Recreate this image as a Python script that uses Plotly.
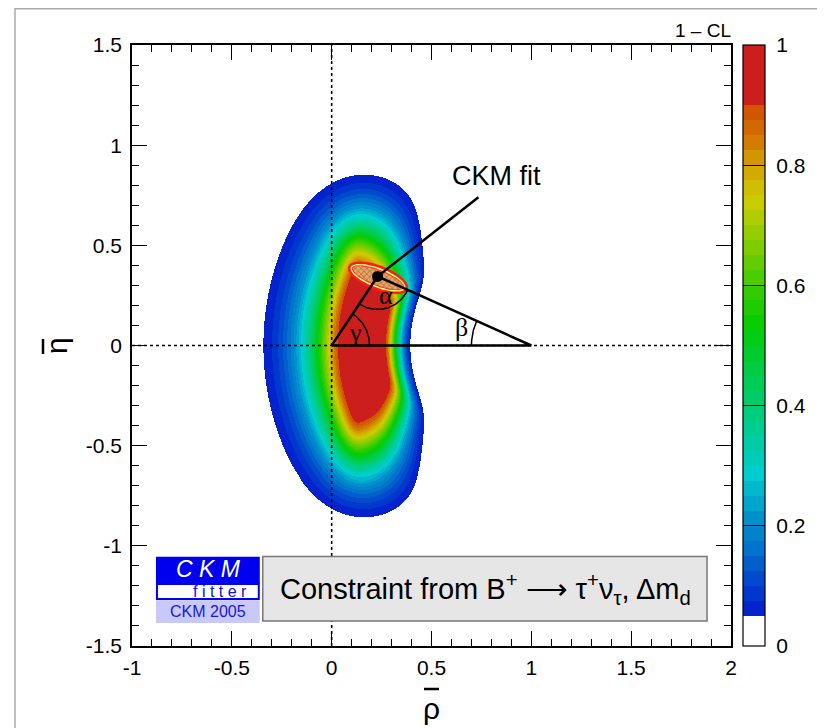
import numpy as np
import plotly.graph_objects as go

# ---------------- data ----------------
# Constraint model (B+ -> tau nu, Delta m_d): flat ranges and widths to the 1-CL = 0.05 edge
INV_RT_PLATEAU = [1.10, 1.311]      # range of 1/R_t with 1-CL ~ 1
INV_RT_WIDTH = [0.354, 0.34]        # distance from plateau to the 1-CL = 0.05 edge
RU_PLATEAU_MAX = 0.30               # R_u flat up to
RU_WIDTH = 0.59
RATIO_PLATEAU_MAX = 0.395           # R_u / R_t flat up to
RATIO_WIDTH = 0.52
COMBINE_POWER = 6
BTAU_COMBINE_POWER = 8
GRID_STEP = 0.005
GRID_RHO = [-0.5, 0.7]
GRID_ETA = [-1.0, 1.0]

# colour bands of 1 - CL
BAND_EDGES = [0.05, 0.075, 0.10, 0.125, 0.15, 0.175, 0.20, 0.225, 0.25, 0.275,
              0.30, 0.325, 0.35, 0.375, 0.40, 0.425, 0.45, 0.475, 0.50, 0.525,
              0.55, 0.575, 0.60, 0.625, 0.65, 0.675, 0.70, 0.725, 0.75, 0.775,
              0.80, 0.825, 0.85, 0.875, 0.90, 1.00]
BAND_COLORS = ["rgb(5,35,205)", "rgb(0,55,205)", "rgb(0,75,205)", "rgb(0,95,205)",
               "rgb(0,115,205)", "rgb(0,130,205)", "rgb(0,145,205)", "rgb(0,165,205)",
               "rgb(0,185,205)", "rgb(0,205,205)", "rgb(0,205,185)", "rgb(0,205,165)",
               "rgb(0,205,145)", "rgb(0,205,125)", "rgb(0,205,105)", "rgb(0,205,85)",
               "rgb(0,205,65)", "rgb(0,205,45)", "rgb(0,205,20)", "rgb(10,205,0)",
               "rgb(30,205,0)", "rgb(50,205,0)", "rgb(75,205,0)", "rgb(100,205,0)",
               "rgb(125,205,0)", "rgb(150,205,0)", "rgb(175,205,0)", "rgb(200,205,0)",
               "rgb(210,190,0)", "rgb(210,170,0)", "rgb(210,150,0)", "rgb(210,125,0)",
               "rgb(210,105,0)", "rgb(210,85,0)", "rgb(205,30,30)"]
CBAR_TICKS = [0, 0.2, 0.4, 0.6, 0.8, 1]
CBAR_TICKTEXT = ["0", "0.2", "0.4", "0.6", "0.8", "1"]

# global fit (apex of the unitarity triangle) and its confidence region
FIT_POINT = [0.23, 0.345]
ELLIPSE_CENTER = [0.232, 0.338]
ELLIPSE_AXES = [0.16, 0.062]
ELLIPSE_TILT_DEG = -21
CKM_LABEL_POS = [0.825, 0.845]
CKM_LINE_END = [0.735, 0.74]

X_TICKS = [-1, -0.5, 0, 0.5, 1, 1.5, 2]
X_TICKTEXT = ["-1", "-0.5", "0", "0.5", "1", "1.5", "2"]
Y_TICKS = [-1.5, -1, -0.5, 0, 0.5, 1, 1.5]
Y_TICKTEXT = ["-1.5", "-1", "-0.5", "0", "0.5", "1", "1.5"]

# ---------------- layout geometry (figure pixels; page adds an 8 px body margin) ----------------
W, H = 817, 720
ML, MR, MT, MB = 124, 94, 37, 82
PW, PH = W - ML - MR, H - MT - MB


def px(x):
    return (x - ML) / PW


def py(y):
    return (MT + PH - y) / PH


# ---------------- 1 - CL field ----------------
rho = np.round(np.arange(GRID_RHO[0], GRID_RHO[1] + 1e-9, GRID_STEP), 4)
eta = np.round(np.arange(GRID_ETA[0], GRID_ETA[1] + 1e-9, GRID_STEP), 4)
RHO, ETA = np.meshgrid(rho, eta)
Ru = np.hypot(RHO, ETA)
Rt = np.maximum(np.hypot(1 - RHO, ETA), 1e-6)
u = 1.0 / Rt
e_u = (np.clip(INV_RT_PLATEAU[0] - u, 0, None) / INV_RT_WIDTH[0]
       + np.clip(u - INV_RT_PLATEAU[1], 0, None) / INV_RT_WIDTH[1])
e_ru = np.clip(Ru - RU_PLATEAU_MAX, 0, None) / RU_WIDTH
e_k = np.clip(Ru / Rt - RATIO_PLATEAU_MAX, 0, None) / RATIO_WIDTH
e_a = (e_ru ** BTAU_COMBINE_POWER + e_k ** BTAU_COMBINE_POWER) ** (1.0 / BTAU_COMBINE_POWER)
e = (e_u ** COMBINE_POWER + e_a ** COMBINE_POWER) ** (1.0 / COMBINE_POWER)
cl = np.exp(-0.5 * 5.991 * e ** 2)
z = np.where(cl >= 0.05, np.round(cl, 4), np.nan)

colorscale = [[0.0, "white"], [BAND_EDGES[0], "white"]]
for i, c in enumerate(BAND_COLORS):
    colorscale.append([BAND_EDGES[i], c])
    colorscale.append([BAND_EDGES[i + 1], c])

SERIF = "Liberation Serif, Times New Roman, serif"
SANS = "Liberation Sans, Arial, Helvetica, sans-serif"

fig = go.Figure()
fig.add_trace(go.Heatmap(
    x=rho, y=eta, z=z, zmin=0, zmax=1, colorscale=colorscale, zsmooth=False,
    hoverinfo="skip",
    colorbar=dict(
        x=px(735), xanchor="left", y=0.5, yanchor="middle", len=1.0, lenmode="fraction",
        thickness=22, outlinewidth=1.2, outlinecolor="black",
        tickvals=CBAR_TICKS, ticktext=["\u00a0" + t for t in CBAR_TICKTEXT],
        ticks="inside", ticklen=22, tickcolor="black", tickwidth=1.2,
        tickfont=dict(family=SANS, size=21, color="black"),
        ypad=0, xpad=0,
    ),
))


def ellipse(shrink):
    t = np.linspace(0, 2 * np.pi, 160)
    a = ELLIPSE_AXES[0] - shrink
    b = ELLIPSE_AXES[1] - shrink
    th = np.deg2rad(ELLIPSE_TILT_DEG)
    xs = ELLIPSE_CENTER[0] + a * np.cos(t) * np.cos(th) - b * np.sin(t) * np.sin(th)
    ys = ELLIPSE_CENTER[1] + a * np.cos(t) * np.sin(th) + b * np.sin(t) * np.cos(th)
    return xs, ys


for shrink, col in [(0.0, "#ff1a1a"), (0.013, "#ffff70"), (0.021, "#ff2a2a")]:
    xs, ys = ellipse(shrink)
    fig.add_trace(go.Scatter(x=xs, y=ys, mode="lines", fill="toself", fillcolor=col,
                             line=dict(width=0, color=col), hoverinfo="skip", showlegend=False))
xs, ys = ellipse(0.026)
fig.add_trace(go.Scatter(x=xs, y=ys, mode="lines", fill="toself", line=dict(width=0),
                         fillcolor="#d89050",
                         fillpattern=dict(shape="x", fgcolor="#a83018", bgcolor="#e0a868",
                                          size=4, solidity=0.4),
                         hoverinfo="skip", showlegend=False))

# unitarity triangle and label line
fig.add_trace(go.Scatter(x=[0, FIT_POINT[0], 1, 0], y=[0, FIT_POINT[1], 0, 0], mode="lines",
                         line=dict(color="black", width=2.5), hoverinfo="skip", showlegend=False))
fig.add_trace(go.Scatter(x=[FIT_POINT[0], CKM_LINE_END[0]], y=[FIT_POINT[1], CKM_LINE_END[1]],
                         mode="lines", line=dict(color="black", width=2.5),
                         hoverinfo="skip", showlegend=False))

# angle arcs
ax_, ay_ = FIT_POINT
gamma = np.arctan2(ay_, ax_)
beta = np.arctan2(ay_, 1 - ax_)


def arc(cx, cy, r, a0, a1):
    t = np.linspace(a0, a1, 60)
    return cx + r * np.cos(t), cy + r * np.sin(t)


for (cx, cy, r, a0, a1) in [(0, 0, 0.19, 0, gamma),
                            (ax_, ay_, 0.165, np.pi + gamma, 2 * np.pi - beta),
                            (1, 0, 0.30, np.pi - beta, np.pi)]:
    xs, ys = arc(cx, cy, r, a0, a1)
    fig.add_trace(go.Scatter(x=xs, y=ys, mode="lines", line=dict(color="black", width=1.5),
                             hoverinfo="skip", showlegend=False))

fig.add_trace(go.Scatter(x=[FIT_POINT[0]], y=[FIT_POINT[1]], mode="markers",
                         marker=dict(color="black", size=11), hoverinfo="skip", showlegend=False))

ann = []
for txt, x, y in [("γ", 0.12, 0.065), ("α", 0.273, 0.25), ("β", 0.648, 0.088)]:
    ann.append(dict(x=x, y=y, xref="x", yref="y", text=txt, showarrow=False,
                    font=dict(family=SERIF, size=26, color="black")))
ann.append(dict(x=CKM_LABEL_POS[0], y=CKM_LABEL_POS[1], xref="x", yref="y", text="CKM fit",
                showarrow=False, font=dict(family=SANS, size=27, color="black")))
# logo texts
ann.append(dict(x=-0.615, y=-1.118, xref="x", yref="y", text="<i>C K M</i>", showarrow=False,
                font=dict(family=SANS, size=23, color="white")))
ann.append(dict(x=-0.56, y=-1.226, xref="x", yref="y", text="f i t t e r", showarrow=False,
                font=dict(family=SANS, size=16, color="#1010e0")))
ann.append(dict(x=-0.62, y=-1.327, xref="x", yref="y", text="CKM 2005", showarrow=False,
                font=dict(family=SANS, size=16, color="#1818e0")))
ann.append(dict(x=0.77, y=-1.215, xref="x", yref="y",
                text="Constraint from B<sup>+</sup> ⟶ τ<sup>+</sup>ν<sub>τ</sub>, Δm<sub>d</sub>",
                showarrow=False, font=dict(family=SANS, size=29, color="black")))
# axis titles and colour bar title
ann.append(dict(x=px(423), y=py(700), xref="paper", yref="paper", text="ρ", showarrow=False,
                xanchor="center", yanchor="middle", font=dict(family=SANS, size=30, color="black")))
ann.append(dict(x=px(48), y=py(338), xref="paper", yref="paper", text="η", showarrow=False,
                textangle=-90, xanchor="center", yanchor="middle",
                font=dict(family=SANS, size=30, color="black")))
ann.append(dict(x=px(695), y=py(22), xref="paper", yref="paper", text="1 – CL", showarrow=False,
                xanchor="center", yanchor="middle", font=dict(family=SANS, size=19, color="black")))

shapes = [
    dict(type="line", x0=0, x1=0, y0=-1.5, y1=1.5, xref="x", yref="y",
         line=dict(color="black", width=1.6, dash="dot"), layer="above"),
    dict(type="line", x0=-1, x1=2, y0=0, y1=0, xref="x", yref="y",
         line=dict(color="black", width=1.6, dash="dot"), layer="above"),
    # bars over rho and eta titles
    dict(type="line", x0=px(416), x1=px(431), y0=py(681), y1=py(681), xref="paper", yref="paper",
         line=dict(color="black", width=2.5)),
    dict(type="line", x0=px(35), x1=px(35), y0=py(331), y1=py(346), xref="paper", yref="paper",
         line=dict(color="black", width=2.5)),
    # CKMfitter logo
    dict(type="rect", x0=-0.88, x1=-0.36, y0=-1.19, y1=-1.055, xref="x", yref="y",
         fillcolor="#0000f0", line=dict(width=0), layer="above"),
    dict(type="rect", x0=-0.875, x1=-0.365, y0=-1.265, y1=-1.19, xref="x", yref="y",
         fillcolor="white", line=dict(width=2, color="#0000f0"), layer="above"),
    dict(type="rect", x0=-0.88, x1=-0.36, y0=-1.385, y1=-1.272, xref="x", yref="y",
         fillcolor="#c8c8fa", line=dict(width=0), layer="above"),
    dict(type="rect", x0=-0.345, x1=1.88, y0=-1.375, y1=-1.053, xref="x", yref="y",
         fillcolor="#e6e6e6", line=dict(width=1.5, color="#777777"), layer="above"),
    # outer frame
    dict(type="rect", x0=px(7), x1=px(W + 20), y0=py(H + 20), y1=py(0.8),
         xref="paper", yref="paper",
         line=dict(color="#aaaaaa", width=1.5), fillcolor="rgba(0,0,0,0)", layer="below"),
]

axis_common = dict(showgrid=False, zeroline=False, showline=True, linecolor="black",
                   linewidth=1.5, ticks="inside", ticklen=15, tickwidth=1.2, tickcolor="black",
                   mirror="allticks",
                   minor=dict(ticks="inside", ticklen=7, tickwidth=1.2, tickcolor="black",
                              dtick=0.1, showgrid=False),
                   tickfont=dict(family=SANS, size=21, color="black"))

fig.update_layout(
    width=W, height=H, margin=dict(l=ML, r=MR, t=MT, b=MB, autoexpand=False),
    plot_bgcolor="white", paper_bgcolor="white", showlegend=False,
    xaxis=dict(range=[-1, 2], tickvals=X_TICKS, ticktext=X_TICKTEXT, ticklabelstandoff=2,
               automargin=False, **axis_common),
    yaxis=dict(range=[-1.5, 1.5], tickvals=Y_TICKS, ticktext=Y_TICKTEXT, ticklabelstandoff=4,
               automargin=False, **axis_common),
    annotations=ann, shapes=shapes,
)
fig.update_xaxes(minor_tick0=-1)
fig.update_yaxes(minor_tick0=-1.5)

fig.write_html("out.html")
